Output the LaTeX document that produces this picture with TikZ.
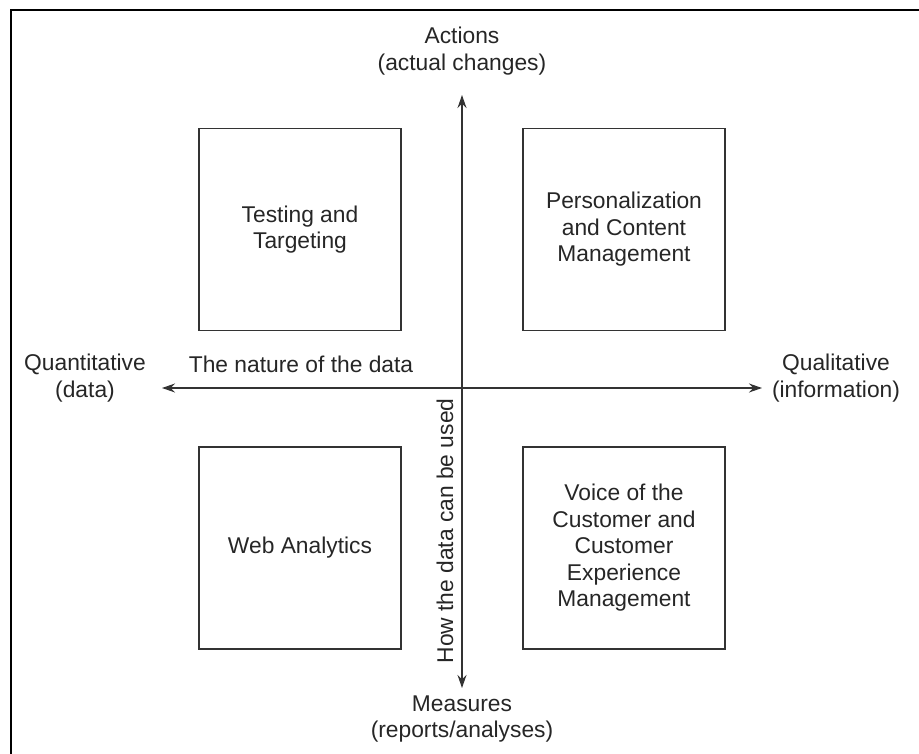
\documentclass[tikz,border=0pt]{standalone}
\usepackage{fontspec}
\setmainfont{Liberation Sans}
\usetikzlibrary{arrows.meta,positioning}

\begin{document}
\begin{tikzpicture}[
  x=1pt, y=-1pt,
  font=\fontsize{22.8}{26.5}\selectfont,
  text=black!85,
  quad/.style={
    draw=black!80,
    line width=1.3pt,
    align=center,
    minimum width=202pt,
    minimum height=202pt,
    inner sep=0pt
  },
  axislabel/.style={align=center, inner sep=0pt},
  arrow/.style={{Stealth[length=13pt,width=9pt]}-{Stealth[length=13pt,width=9pt]}, line width=1.1pt, draw=black!80},
  frame/.style={line width=1.5pt, draw=black}
]
\useasboundingbox (0,0) rectangle (919,754);

% frame
\draw[frame] (919,10) -- (11,10) -- (11,754);

% quadrants
\node[quad] (testing) at (300,229.5) {Testing and\\Targeting};
\node[quad] (personal) at (624,229.5) {Personalization\\and Content\\Management};
\node[quad] (web) at (300,548) {Web Analytics};
\node[quad] (voice) at (624,548) {Voice of the\\Customer and\\Customer\\Experience\\Management};

% axis ends
\coordinate (top) at (462,95);
\coordinate (bottom) at (462,688);
\coordinate (left) at (162,388);
\coordinate (right) at (762,388);

\node[axislabel] (actions) at (462,51) {Actions\\(actual changes)};
\node[axislabel] (measures) at (462,719) {Measures\\(reports/analyses)};
\node[axislabel] (quant) at (85,378) {Quantitative\\(data)};
\node[axislabel] (qual) at (836,378) {Qualitative\\(information)};

\draw[arrow] (bottom) -- (top);
\draw[arrow] (left) -- (right);

\node[inner sep=0pt, anchor=base] (nature) at (301,372) {The nature of the data};
\node[inner sep=0pt, rotate=90, anchor=base] (howused) at (453,531) {How the data can be used};
\end{tikzpicture}
\end{document}
